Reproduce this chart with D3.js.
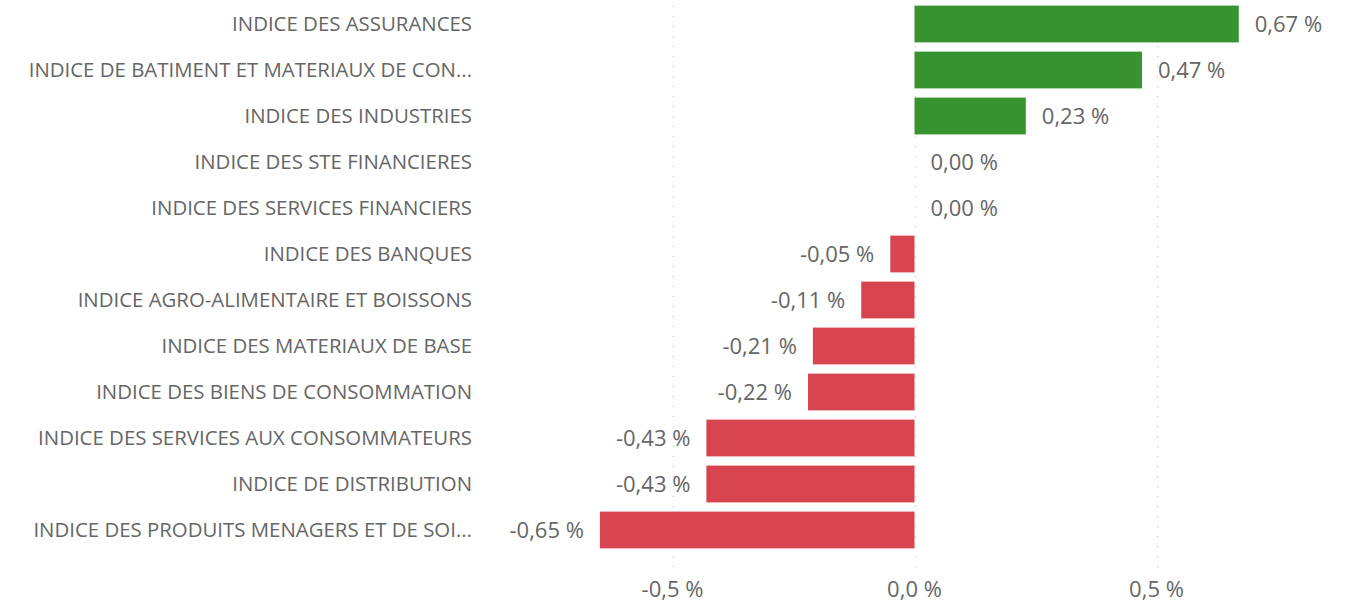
<!DOCTYPE html>
<html>
<head>
<meta charset="utf-8">
<script src="https://cdn.jsdelivr.net/npm/d3@7"></script>
<style>
  body { margin: 0; background: #fff; }
  #chart text { font-family: "Segoe UI", "Open Sans", "Noto Sans", sans-serif; fill: #666; }
</style>
</head>
<body>
<div id="chart"></div>
<script>
const categories = [
  'INDICE DES ASSURANCES',
  'INDICE DE BATIMENT ET MATERIAUX DE CON...',
  'INDICE DES INDUSTRIES',
  'INDICE DES STE FINANCIERES',
  'INDICE DES SERVICES FINANCIERS',
  'INDICE DES BANQUES',
  'INDICE AGRO-ALIMENTAIRE ET BOISSONS',
  'INDICE DES MATERIAUX DE BASE',
  'INDICE DES BIENS DE CONSOMMATION',
  'INDICE DES SERVICES AUX CONSOMMATEURS',
  'INDICE DE DISTRIBUTION',
  'INDICE DES PRODUITS MENAGERS ET DE SOI...'
];
const values = [0.67, 0.47, 0.23, 0.00, 0.00, -0.05, -0.11, -0.21, -0.22, -0.43, -0.43, -0.65];
const tickValues = [-0.5, 0, 0.5];

const Width = 1361, Height = 604;
const posColor = '#37932f', negColor = '#d64550';
const fmt = v => v.toFixed(2).replace('.', ',') + ' %';
const fmtTick = v => v.toFixed(1).replace('.', ',') + ' %';

const data = categories.map((c, i) => ({ name: c, value: values[i] }));

const svg = d3.select('#chart').append('svg')
  .attr('width', Width)
  .attr('height', Height);

const x = d3.scaleLinear().domain([-0.5, 0.5]).range([672.5, 1156.5]);
const y = d3.scaleBand().domain(categories).range([1, 553]).paddingInner(0.2).paddingOuter(0.1);

// dotted grid lines
svg.append('g').attr('class', 'grid')
  .selectAll('line')
  .data(tickValues)
  .enter().append('line')
  .attr('x1', d => Math.round(x(d)) + 0.5)
  .attr('x2', d => Math.round(x(d)) + 0.5)
  .attr('y1', 6)
  .attr('y2', 570)
  .attr('stroke', '#c8c8c8')
  .attr('stroke-width', 1.2)
  .attr('stroke-dasharray', '1.2 8.8');

// bars
svg.append('g').attr('class', 'bars')
  .selectAll('rect')
  .data(data)
  .enter().append('rect')
  .attr('x', d => x(Math.min(0, d.value)))
  .attr('y', d => y(d.name))
  .attr('width', d => Math.abs(x(d.value) - x(0)))
  .attr('height', y.bandwidth())
  .attr('fill', d => d.value >= 0 ? posColor : negColor);

// category labels
svg.append('g').attr('class', 'yLabels')
  .selectAll('text')
  .data(data)
  .enter().append('text')
  .attr('x', 472)
  .attr('y', d => y(d.name) + y.bandwidth() / 2)
  .attr('dy', '0.35em')
  .attr('text-anchor', 'end')
  .style('font-size', '20.4px')
  .text(d => d.name);

// value labels
svg.append('g').attr('class', 'valueLabels')
  .selectAll('text')
  .data(data)
  .enter().append('text')
  .attr('x', d => d.value >= 0 ? x(d.value) + 16 : x(d.value) - 16)
  .attr('y', d => y(d.name) + y.bandwidth() / 2)
  .attr('dy', '0.35em')
  .attr('text-anchor', d => d.value >= 0 ? 'start' : 'end')
  .style('font-size', '22px')
  .text(d => fmt(d.value));

// x axis tick labels
svg.append('g').attr('class', 'xAxis')
  .selectAll('text')
  .data(tickValues)
  .enter().append('text')
  .attr('x', d => x(d))
  .attr('y', 589)
  .attr('dy', '0.35em')
  .attr('text-anchor', 'middle')
  .style('font-size', '22px')
  .text(d => fmtTick(d));
</script>
</body>
</html>
